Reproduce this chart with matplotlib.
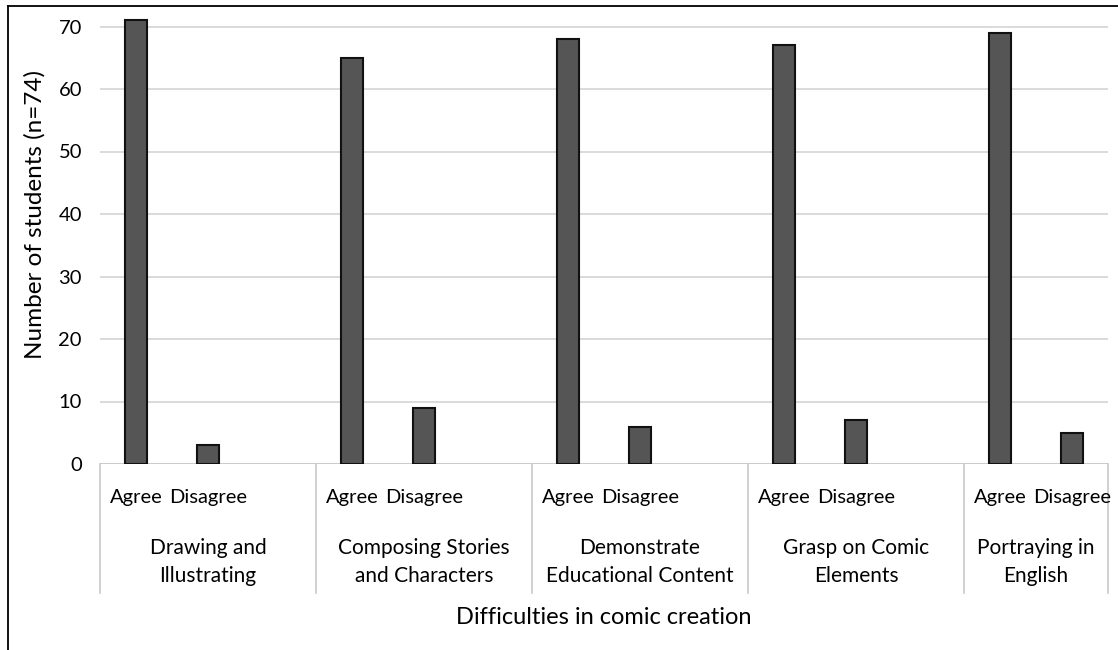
import matplotlib
matplotlib.use("Agg")
import matplotlib.pyplot as plt
from matplotlib import transforms
from matplotlib.lines import Line2D

plt.rcParams['font.family'] = ['Lato', 'DejaVu Sans']

groups = ['Drawing and\nIllustrating', 'Composing Stories\nand Characters',
          'Demonstrate\nEducational Content', 'Grasp on Comic\nElements',
          'Portraying in\nEnglish']
responses = ['Agree', 'Disagree']
agree = [71, 65, 68, 67, 69]
disagree = [3, 9, 6, 7, 5]
yticks = [0, 10, 20, 30, 40, 50, 60, 70]

W, H = 1118, 650
fig = plt.figure(figsize=(W / 100, H / 100), dpi=100)


def fx(px):
    return px / W


def fy(py):
    return 1 - py / H


ax = fig.add_axes([fx(100), fy(464), fx(1108) - fx(100), fy(14) - fy(464)])

# each group takes 3 slots (agree, disagree, empty) except the last one
x_agree = [g * 3 for g in range(len(groups))]
x_dis = [g * 3 + 1 for g in range(len(groups))]
bar_kw = dict(width=0.3, color='#555555', edgecolor='#111111', linewidth=1.5, zorder=3)
ax.bar(x_agree, agree, **bar_kw)
ax.bar(x_dis, disagree, **bar_kw)

n_slots = 3 * len(groups) - 1
ax.set_xlim(-0.5, n_slots - 0.5)
ax.set_ylim(0, 72)
ax.set_yticks(yticks)
ax.set_yticklabels([str(t) for t in yticks], fontsize=14.5)
ax.tick_params(axis='y', length=0, pad=13)
ax.set_xticks([])
ax.grid(axis='y', color='#d4d4d4', linewidth=1.2, zorder=0)
for s in ax.spines.values():
    s.set_visible(False)
ax.axhline(0, color='#c8c8c8', linewidth=1.2, zorder=2)

tr = transforms.blended_transform_factory(ax.transData, fig.transFigure)
for g, name in enumerate(groups):
    for i, r in enumerate(responses):
        ax.text(g * 3 + i, fy(498), r, transform=tr, ha='center', va='center',
                fontsize=14.5, clip_on=False)
    right = min(g * 3 + 2.5, n_slots - 0.5)
    ax.text((g * 3 - 0.5 + right) / 2, fy(562), name, transform=tr,
            ha='center', va='center', fontsize=15, linespacing=1.5, clip_on=False)

for b in [-0.5, 2.5, 5.5, 8.5, 11.5, n_slots - 0.5]:
    ax.add_line(Line2D([b, b], [fy(464), fy(593)], transform=tr,
                       color='#c8c8c8', linewidth=1.2, clip_on=False))

fig.text(fx(604), fy(617), 'Difficulties in comic creation', ha='center',
         va='center', fontsize=17)
fig.text(fx(35), fy(215), 'Number of students (n=74)', ha='center',
         va='center', rotation=90, fontsize=17.5)

# outer frame, cut off at the right and bottom
fig.add_artist(Line2D([fx(8), fx(8)], [0, fy(6)], color='black', linewidth=1.3))
fig.add_artist(Line2D([fx(8), 1], [fy(6), fy(6)], color='black', linewidth=1.3))

fig.savefig('out.png', dpi=100)
